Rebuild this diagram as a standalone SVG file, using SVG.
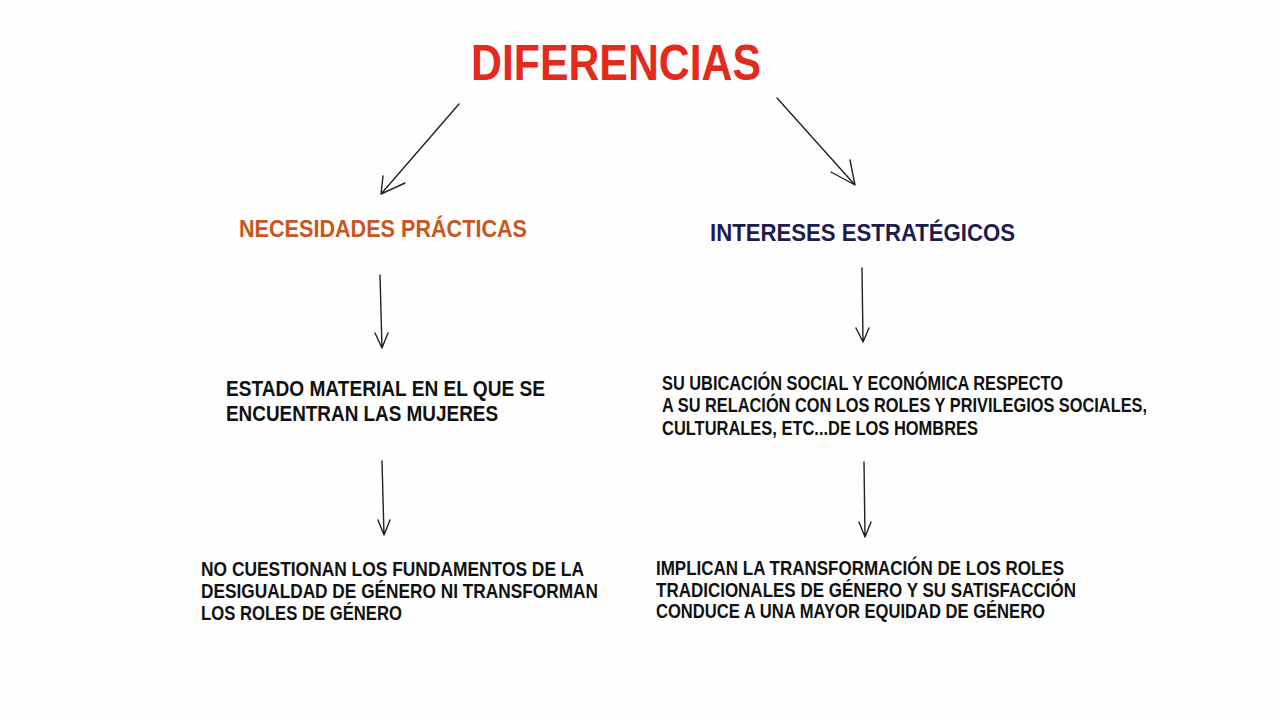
<svg xmlns="http://www.w3.org/2000/svg" width="1280" height="720" viewBox="0 0 1280 720">
<style>
.t{font-family:"Liberation Sans","DejaVu Sans",sans-serif;font-weight:bold;fill:#111;font-size:20px}
.c{fill:none;stroke:#222;stroke-width:1.4;stroke-linecap:round;stroke-linejoin:round}
</style>
<rect width="1280" height="720" fill="#fefefe"/>
<g id="diferencias"><text class="t" x="471" y="80" style="font-size:50px;fill:#e42a1d" textLength="290" lengthAdjust="spacingAndGlyphs">DIFERENCIAS</text></g>
<g id="necesidades"><text class="t" x="239" y="237" style="font-size:24px;fill:#c9561b" textLength="288" lengthAdjust="spacingAndGlyphs">NECESIDADES PRÁCTICAS</text></g>
<g id="intereses"><text class="t" x="710" y="241" style="font-size:24px;fill:#211c4e" textLength="305" lengthAdjust="spacingAndGlyphs">INTERESES ESTRATÉGICOS</text></g>
<g id="estado">
<text class="t" x="226" y="396" style="font-size:22px" textLength="319" lengthAdjust="spacingAndGlyphs">ESTADO MATERIAL EN EL QUE SE</text>
<text class="t" x="226" y="421" style="font-size:22px" textLength="272" lengthAdjust="spacingAndGlyphs">ENCUENTRAN LAS MUJERES</text>
</g>
<g id="ubicacion">
<text class="t" x="662" y="390" textLength="401" lengthAdjust="spacingAndGlyphs">SU UBICACIÓN SOCIAL Y ECONÓMICA RESPECTO</text>
<text class="t" x="662" y="412" textLength="485" lengthAdjust="spacingAndGlyphs">A SU RELACIÓN CON LOS ROLES Y PRIVILEGIOS SOCIALES,</text>
<text class="t" x="662" y="435" textLength="316" lengthAdjust="spacingAndGlyphs">CULTURALES, ETC...DE LOS HOMBRES</text>
</g>
<g id="no-cuestionan">
<text class="t" x="201" y="576" textLength="383" lengthAdjust="spacingAndGlyphs">NO CUESTIONAN LOS FUNDAMENTOS DE LA</text>
<text class="t" x="201" y="598" textLength="397" lengthAdjust="spacingAndGlyphs">DESIGUALDAD DE GÉNERO NI TRANSFORMAN</text>
<text class="t" x="201" y="620" textLength="201" lengthAdjust="spacingAndGlyphs">LOS ROLES DE GÉNERO</text>
</g>
<g id="implican">
<text class="t" x="656" y="575" textLength="408" lengthAdjust="spacingAndGlyphs">IMPLICAN LA TRANSFORMACIÓN DE LOS ROLES</text>
<text class="t" x="656" y="597" textLength="420" lengthAdjust="spacingAndGlyphs">TRADICIONALES DE GÉNERO Y SU SATISFACCIÓN</text>
<text class="t" x="656" y="618" textLength="389" lengthAdjust="spacingAndGlyphs">CONDUCE A UNA MAYOR EQUIDAD DE GÉNERO</text>
</g>
<g id="connectors">
<path class="c" d="M459,104 L381,194 M383,176 L381,194 L405,183"/>
<path class="c" d="M777,98 L855,185 M831,172 L855,185 L850,160"/>
<path class="c" d="M380,275 L382,348 M375,333 L382,348 L388,333"/>
<path class="c" d="M862,268 L863,342 M856,328 L863,342 L869,328"/>
<path class="c" d="M382,461 L384,535 M378,520 L384,535 L390,520"/>
<path class="c" d="M864,462 L865,537 M859,522 L865,537 L871,522"/>
</g>
</svg>
